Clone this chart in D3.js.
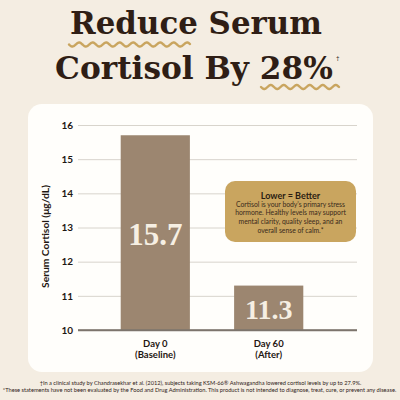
<!DOCTYPE html>
<html>
<head>
<meta charset="utf-8">
<script src="https://cdn.jsdelivr.net/npm/d3@7"></script>
<style>
  html, body { margin: 0; padding: 0; background: #f4ede2; }
  svg { display: block; }
</style>
</head>
<body>
<div id="chart"></div>
<script>
// chart data
const categories = ["Day 0", "Day 60"];
const subLabels = ["(Baseline)", "(After)"];
const cortisol = [15.7, 11.3];
const yTicks = [10, 11, 12, 13, 14, 15, 16];
const titleLines = ["Reduce Serum", "Cortisol By 28%"];
const noteTitle = "Lower = Better";
const noteLines = [
  "Cortisol is your body\u2019s primary stress",
  "hormone. Healthy levels may support",
  "mental clarity, quality sleep, and an",
  "overall sense of calm.*"
];
const footLines = [
  "\u2020In a clinical study by Chandrasekhar et al. (2012), subjects taking KSM-66\u00ae Ashwagandha lowered cortisol levels by up to 27.9%.",
  "*These statements have not been evaluated by the Food and Drug Administration. This product is not intended to diagnose, treat, cure, or prevent any disease."
];

const width = 400, height = 400;
const dark = '#2f1e15', gold = '#c9a55f', barColor = '#9c8670';
const sans = "Lato, 'Open Sans', sans-serif";

const svg = d3.select('#chart').append('svg')
  .attr('width', width).attr('height', height);

svg.append('rect').attr('width', width).attr('height', height).attr('fill', '#f4ede2');

// scale font size so text fills a given width
function fit(sel, w) {
  const node = sel.node();
  const fs = parseFloat(sel.attr('font-size'));
  const len = node.getComputedTextLength();
  sel.attr('font-size', fs * w / len);
  return sel;
}

// title
const title = svg.append('g').attr('fill', dark)
  .attr('font-family', "'DejaVu Serif', serif").attr('font-weight', 'bold')
  .attr('text-anchor', 'middle');
fit(title.append('text').attr('x', 196).attr('y', 34).attr('font-size', 32).text(titleLines[0]), 252);
fit(title.append('text').attr('x', 194).attr('y', 79).attr('font-size', 32).text(titleLines[1]), 278);
svg.append('text').attr('x', 336).attr('y', 60).attr('font-size', 6)
  .attr('fill', dark).attr('font-family', sans).text('\u2020');

// wavy underlines
function wave(x0, x1, y, period, amp) {
  const pts = d3.range(x0, x1 + 0.5, 0.5).map(x => [x, y + amp * Math.sin((x - x0) / period * 2 * Math.PI)]);
  svg.append('path').attr('d', d3.line()(pts))
    .attr('fill', 'none').attr('stroke', gold).attr('stroke-width', 2.4)
    .attr('stroke-linecap', 'round');
}
wave(69, 190, 44.5, 13.5, 2);
wave(261, 339, 87, 13, 2);

// card
svg.append('rect').attr('x', 28).attr('y', 104).attr('width', 345).attr('height', 268)
  .attr('rx', 14).attr('fill', '#fffefb');

// scales
const y = d3.scaleLinear().domain([10, 16]).range([330, 125]);
const x = d3.scaleBand().domain(categories).range([64, 360]).paddingInner(0.39).paddingOuter(0.5);
const gridLeft = 78, gridRight = 357;

// y axis with gridlines
const gy = svg.append('g').attr('transform', `translate(${gridLeft},0)`)
  .call(d3.axisLeft(y).tickValues(yTicks).tickFormat(d3.format('d'))
    .tickSize(-(gridRight - gridLeft)).tickPadding(5));
gy.select('.domain').remove();
gy.selectAll('.tick line').attr('stroke', '#d8d4cc').attr('stroke-width', 1);
gy.selectAll('.tick').filter(d => d === 10).select('line').attr('stroke', '#7d756c').attr('stroke-width', 1.6);
gy.selectAll('.tick text').attr('fill', '#1f1712').attr('font-family', sans)
  .attr('font-weight', 'bold').attr('font-size', 10);

fit(svg.append('text')
  .attr('transform', `translate(48.5,${(y(10) + y(16)) / 2 + 9}) rotate(-90)`)
  .attr('text-anchor', 'middle').attr('fill', '#1f1712')
  .attr('font-family', sans).attr('font-weight', 'bold').attr('font-size', 8.6)
  .text('Serum Cortisol (\u03bcg/dL)'), 103);

// bars
const bars = svg.append('g');
bars.selectAll('rect').data(cortisol).enter().append('rect')
  .attr('x', (d, i) => x(categories[i]))
  .attr('y', d => y(d))
  .attr('width', x.bandwidth())
  .attr('height', d => y(10) - y(d))
  .attr('fill', barColor);

// baseline drawn again over bars
svg.append('line').attr('x1', gridLeft).attr('x2', gridRight)
  .attr('y1', y(10)).attr('y2', y(10))
  .attr('stroke', '#7d756c').attr('stroke-width', 1.6);

bars.selectAll('text.val').data(cortisol).enter().append('text')
  .attr('class', 'val')
  .attr('x', (d, i) => x(categories[i]) + x.bandwidth() / 2)
  .attr('y', d => (y(d) + y(10)) / 2 + 1.5)
  .attr('dominant-baseline', 'central')
  .attr('text-anchor', 'middle')
  .attr('fill', '#f6efe3')
  .attr('font-family', "'Liberation Serif', serif").attr('font-weight', 'bold')
  .attr('font-size', (d, i) => i === 0 ? 31 : 28)
  .text(d => d.toFixed(1));

// x labels
const xl = svg.append('g').attr('text-anchor', 'middle').attr('fill', '#1f1712')
  .attr('font-family', sans).attr('font-weight', 'bold').attr('font-size', 9.5);
categories.forEach((c, i) => {
  const cx = x(c) + x.bandwidth() / 2;
  xl.append('text').attr('x', cx).attr('y', 347).text(c);
  xl.append('text').attr('x', cx).attr('y', 358).text(subLabels[i]);
});

// note box
svg.append('rect').attr('x', 225).attr('y', 181).attr('width', 131).attr('height', 61)
  .attr('rx', 10).attr('fill', gold);
svg.append('text').attr('x', 290.5).attr('y', 198.5).attr('text-anchor', 'middle')
  .attr('fill', '#2a1c12').attr('font-family', sans).attr('font-weight', 'bold')
  .attr('font-size', 9).text(noteTitle);
const body = svg.append('g').attr('text-anchor', 'middle').attr('fill', '#3a2a1c')
  .attr('font-family', sans).attr('font-size', 6.8);
const bodyText = body.selectAll('text').data(noteLines).enter().append('text')
  .attr('x', 290.5).attr('y', (d, i) => 206.5 + i * 8.9).text(d => d);
// size all lines so the second one spans the box like the original
const probe = bodyText.filter((d, i) => i === 1);
fit(probe, 118);
bodyText.attr('font-size', probe.attr('font-size'));

// footnotes
const foot = svg.append('g').attr('text-anchor', 'middle').attr('fill', '#2f2218')
  .attr('font-family', sans);
fit(foot.append('text').attr('x', 200.5).attr('y', 385).attr('font-size', 5).text(footLines[0]), 322);
fit(foot.append('text').attr('x', 199.5).attr('y', 391.5).attr('font-size', 5).text(footLines[1]), 394);
</script>
</body>
</html>
